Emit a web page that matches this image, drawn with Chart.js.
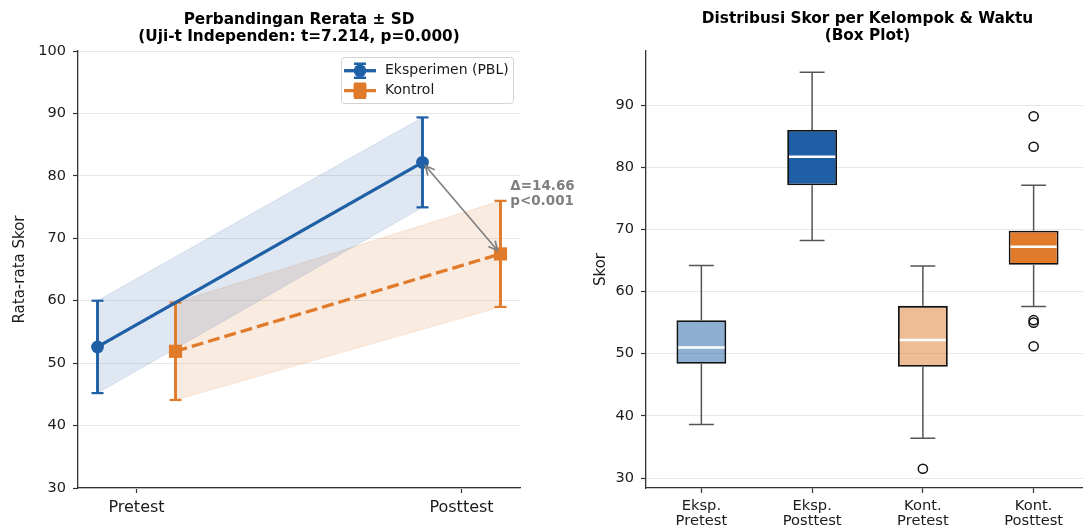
<!DOCTYPE html>
<html>
<head>
<meta charset="utf-8">
<script src="https://cdn.jsdelivr.net/npm/chart.js@4/dist/chart.umd.min.js"></script>
<style>
  html, body { margin: 0; padding: 0; background: #fff; overflow: hidden; width: 1083px; height: 528px; }
  canvas { position: absolute; top: 0; }
  #meanChart { left: 0; }
  #boxChart { left: 560px; }
</style>
</head>
<body>
<canvas id="meanChart" width="600" height="528"></canvas>
<canvas id="boxChart" width="540" height="528"></canvas>
<script>
// Data left panel: rerata +- SD
var phaseLabels = ['Pretest', 'Posttest'];
var expMean = [52.6, 82.16];
var expSD = [7.4, 7.2];
var kontMean = [51.9, 67.5];
var kontSD = [7.8, 8.5];
var meanTicks = [30, 40, 50, 60, 70, 80, 90, 100];

// Data right panel: box plot
var boxLabels = [['Eksp.', 'Pretest'], ['Eksp.', 'Posttest'], ['Kont.', 'Pretest'], ['Kont.', 'Posttest']];
var whiskerLow = [38.6, 68.2, 36.4, 57.6];
var boxQ1 = [48.4, 77.1, 47.9, 64.3];
var boxMedian = [51.0, 81.7, 52.2, 67.2];
var boxQ3 = [55.4, 86.0, 57.7, 69.8];
var whiskerHigh = [64.2, 95.3, 64.1, 77.1];
var outlierGroup = [3, 4, 4, 4, 4, 4];
var outlierValue = [31.5, 88.2, 83.3, 55.4, 55.0, 51.2];
var boxTicks = [30, 40, 50, 60, 70, 80, 90];

var BLUE = '#1f5fa5';
var ORANGE = '#e07b2c';
var EXP_OFF = -0.12;
var KONT_OFF = 0.12;
var FONT = 'DejaVu Sans';

Chart.defaults.font.family = FONT;
Chart.defaults.color = '#1a1a1a';

// judul panel di tengah area plot
var panelTitle = {
  id: 'panelTitle',
  afterDraw: function(chart, args, opts) {
    var ctx = chart.ctx, area = chart.chartArea;
    var cx = (area.left + area.right) / 2;
    ctx.save();
    ctx.font = 'bold 15.3px "' + FONT + '"';
    ctx.fillStyle = '#000';
    ctx.textAlign = 'center';
    ctx.textBaseline = 'middle';
    opts.lines.forEach(function(t, i) { ctx.fillText(t, cx, opts.top + i * opts.gap); });
    ctx.restore();
  }
};

// legenda gaya matplotlib (garis + marker + errorbar)
var legendBox = {
  id: 'legendBox',
  afterDatasetsDraw: function(chart) {
    var ctx = chart.ctx, area = chart.chartArea;
    var items = chart.data.datasets.filter(function(d) { return d.inLegend; });
    var w = 172, h = 46;
    var x0 = area.right - 7 - w, y0 = area.top + 6;
    ctx.save();
    ctx.beginPath();
    ctx.roundRect(x0 + 0.5, y0 + 0.5, w, h, 3);
    ctx.fillStyle = 'rgba(255,255,255,0.85)';
    ctx.fill();
    ctx.strokeStyle = '#d4d4d4';
    ctx.lineWidth = 1;
    ctx.stroke();
    items.forEach(function(d, i) {
      var y = y0 + 13.7 + i * 20;
      var hx = x0 + 3, cx = x0 + 19;
      ctx.strokeStyle = d.borderColor;
      ctx.lineWidth = 3.3;
      ctx.setLineDash(d.borderDash ? [10, 12] : []);
      ctx.beginPath(); ctx.moveTo(hx, y); ctx.lineTo(hx + 32, y); ctx.stroke();
      ctx.setLineDash([]);
      ctx.lineWidth = 2.4;
      ctx.beginPath();
      ctx.moveTo(cx, y - 7); ctx.lineTo(cx, y + 7);
      ctx.moveTo(cx - 6, y - 7); ctx.lineTo(cx + 6, y - 7);
      ctx.moveTo(cx - 6, y + 7); ctx.lineTo(cx + 6, y + 7);
      ctx.stroke();
      ctx.fillStyle = d.borderColor;
      if (d.pointStyle === 'rect') {
        ctx.fillRect(cx - 6.5, y - 6.5, 13, 13);
      } else {
        ctx.beginPath(); ctx.arc(cx, y, 6.3, 0, Math.PI * 2); ctx.fill();
      }
      ctx.fillStyle = '#1a1a1a';
      ctx.font = '14px "' + FONT + '"';
      ctx.textAlign = 'left';
      ctx.textBaseline = 'middle';
      ctx.fillText(d.label, x0 + 44, y);
    });
    ctx.restore();
  }
};

// panah selisih posttest + teks
var deltaNote = {
  id: 'deltaNote',
  afterDatasetsDraw: function(chart, args, opts) {
    var ctx = chart.ctx;
    var a = chart.getDatasetMeta(opts.from).data[1];
    var b = chart.getDatasetMeta(opts.to).data[1];
    var dx = b.x - a.x, dy = b.y - a.y, len = Math.sqrt(dx * dx + dy * dy);
    var ux = dx / len, uy = dy / len, s = 4.5;
    var p1 = {x: a.x + ux * s, y: a.y + uy * s}, p2 = {x: b.x - ux * s, y: b.y - uy * s};
    ctx.save();
    ctx.strokeStyle = '#808080';
    ctx.lineWidth = 1.7;
    ctx.beginPath(); ctx.moveTo(p1.x, p1.y); ctx.lineTo(p2.x, p2.y); ctx.stroke();
    function head(p, dirx, diry) {
      var hl = 9, hw = 4.5;
      ctx.beginPath();
      ctx.moveTo(p.x + dirx * hl - diry * hw, p.y + diry * hl + dirx * hw);
      ctx.lineTo(p.x, p.y);
      ctx.lineTo(p.x + dirx * hl + diry * hw, p.y + diry * hl - dirx * hw);
      ctx.stroke();
    }
    head(p1, ux, uy);
    head(p2, -ux, -uy);
    var tx = chart.scales.x.getPixelForValue(opts.textX);
    var ty = chart.scales.y.getPixelForValue(opts.textY);
    var diff = (expMean[1] - kontMean[1]).toFixed(2);
    ctx.fillStyle = '#808080';
    ctx.font = 'bold 13.5px "' + FONT + '"';
    ctx.textAlign = 'left';
    ctx.textBaseline = 'middle';
    ctx.fillText('\u0394=' + diff, tx, ty - 7.8);
    ctx.fillText('p<0.001', tx, ty + 7.8);
    ctx.restore();
  }
};

function bandSets(means, sds, offset, fillColor) {
  var upper = means.map(function(m, i) { return {x: i + offset, y: m + sds[i]}; });
  var lower = means.map(function(m, i) { return {x: i + offset, y: m - sds[i]}; });
  return [
    {data: upper, borderColor: fillColor, borderWidth: 1, pointRadius: 0, fill: false, order: 3},
    {data: lower, borderColor: fillColor, borderWidth: 1, pointRadius: 0, fill: '-1', backgroundColor: fillColor, order: 3}
  ];
}

function errorBarSets(means, sds, offset, color) {
  return means.map(function(m, i) {
    return {
      data: [{x: i + offset, y: m - sds[i]}, {x: i + offset, y: m + sds[i]}],
      borderColor: color, borderWidth: 2.9,
      pointStyle: 'line', pointRadius: 6, pointHoverRadius: 6,
      pointBorderWidth: 2.2, pointBorderColor: color, order: 2
    };
  });
}

var meanSets = [
  {
    label: 'Eksperimen (PBL)', inLegend: true,
    data: expMean.map(function(m, i) { return {x: i + EXP_OFF, y: m}; }),
    borderColor: BLUE, borderWidth: 3.3,
    pointStyle: 'circle', pointRadius: 6.4, pointHoverRadius: 6.4,
    pointBackgroundColor: BLUE, pointBorderWidth: 0, order: 1
  },
  {
    label: 'Kontrol', inLegend: true,
    data: kontMean.map(function(m, i) { return {x: i + KONT_OFF, y: m}; }),
    borderColor: ORANGE, borderWidth: 3.3, borderDash: [12, 5],
    pointStyle: 'rect', pointRadius: 9.3, pointHoverRadius: 9.3,
    pointBackgroundColor: ORANGE, pointBorderWidth: 0, order: 1
  }
].concat(
  errorBarSets(expMean, expSD, EXP_OFF, BLUE),
  errorBarSets(kontMean, kontSD, KONT_OFF, ORANGE),
  bandSets(expMean, expSD, EXP_OFF, 'rgba(31,95,165,0.15)'),
  bandSets(kontMean, kontSD, KONT_OFF, 'rgba(224,123,44,0.15)')
);

new Chart(document.getElementById('meanChart'), {
  type: 'line',
  data: {datasets: meanSets},
  plugins: [panelTitle, legendBox, deltaNote],
  options: {
    responsive: false,
    animation: false,
    devicePixelRatio: 1,
    layout: {padding: {left: 0, right: 80, top: 51, bottom: 0}},
    elements: {line: {tension: 0}},
    plugins: {
      legend: {display: false},
      tooltip: {enabled: false},
      panelTitle: {lines: ['Perbandingan Rerata \u00b1 SD', '(Uji-t Independen: t=7.214, p=0.000)'], top: 20, gap: 17},
      deltaNote: {from: 0, to: 1, textX: 1.15, textY: 77.1}
    },
    scales: {
      x: {
        type: 'linear', min: -0.18, max: 1.18,
        afterBuildTicks: function(scale) { scale.ticks = phaseLabels.map(function(_, i) { return {value: i}; }); },
        afterFit: function(scale) { scale.height = 40; },
        ticks: {callback: function(v) { return phaseLabels[v]; }, font: {size: 16}, color: '#1a1a1a', padding: 5},
        grid: {drawOnChartArea: false, tickLength: 5, tickColor: '#333', tickWidth: 1.2},
        border: {color: '#333', width: 1.3}
      },
      y: {
        min: 30, max: 100,
        afterBuildTicks: function(scale) { scale.ticks = meanTicks.map(function(v) { return {value: v}; }); },
        afterFit: function(scale) { scale.width = 78; },
        ticks: {font: {size: 14.5}, color: '#1a1a1a', padding: 7},
        grid: {color: '#e8e8e8', lineWidth: 1, tickLength: 5, tickColor: '#333', tickWidth: 1.2},
        border: {color: '#333', width: 1.3},
        title: {display: true, text: 'Rata-rata Skor', font: {size: 15}, color: '#1a1a1a', padding: {top: 11, bottom: 0}}
      }
    }
  }
});

// whisker + median untuk box plot
var whiskers = {
  id: 'whiskers',
  afterDatasetsDraw: function(chart) {
    var ctx = chart.ctx, y = chart.scales.y;
    var meta = chart.getDatasetMeta(0);
    ctx.save();
    meta.data.forEach(function(bar, i) {
      var half = bar.width / 2, cap = half / 2;
      ctx.strokeStyle = '#555';
      ctx.lineWidth = 1.5;
      ctx.beginPath();
      ctx.moveTo(bar.x, y.getPixelForValue(boxQ3[i])); ctx.lineTo(bar.x, y.getPixelForValue(whiskerHigh[i]));
      ctx.moveTo(bar.x - cap, y.getPixelForValue(whiskerHigh[i])); ctx.lineTo(bar.x + cap, y.getPixelForValue(whiskerHigh[i]));
      ctx.moveTo(bar.x, y.getPixelForValue(boxQ1[i])); ctx.lineTo(bar.x, y.getPixelForValue(whiskerLow[i]));
      ctx.moveTo(bar.x - cap, y.getPixelForValue(whiskerLow[i])); ctx.lineTo(bar.x + cap, y.getPixelForValue(whiskerLow[i]));
      ctx.stroke();
      ctx.strokeStyle = '#fff';
      ctx.lineWidth = 2.6;
      ctx.beginPath();
      ctx.moveTo(bar.x - half + 1.8, y.getPixelForValue(boxMedian[i]));
      ctx.lineTo(bar.x + half - 1.8, y.getPixelForValue(boxMedian[i]));
      ctx.stroke();
    });
    ctx.restore();
  }
};

new Chart(document.getElementById('boxChart'), {
  type: 'bar',
  data: {
    datasets: [
      {
        type: 'bar',
        data: boxQ1.map(function(q, i) { return {x: i + 1, y: [q, boxQ3[i]]}; }),
        backgroundColor: ['rgba(31,95,165,0.5)', BLUE, 'rgba(224,123,44,0.5)', ORANGE],
        borderColor: '#111', borderWidth: 1.8, borderSkipped: false,
        barPercentage: 0.45, categoryPercentage: 1
      },
      {
        type: 'scatter',
        data: outlierValue.map(function(v, i) { return {x: outlierGroup[i], y: v}; }),
        pointStyle: 'circle', pointRadius: 4.6, pointHoverRadius: 4.6,
        pointBackgroundColor: 'rgba(0,0,0,0)', pointBorderColor: '#111', pointBorderWidth: 1.5
      }
    ]
  },
  plugins: [panelTitle, whiskers],
  options: {
    responsive: false,
    animation: false,
    devicePixelRatio: 1,
    layout: {padding: {left: 0, right: 11, top: 51, bottom: 0}},
    plugins: {
      legend: {display: false},
      tooltip: {enabled: false},
      panelTitle: {lines: ['Distribusi Skor per Kelompok & Waktu', '(Box Plot)'], top: 19.5, gap: 17}
    },
    scales: {
      x: {
        type: 'linear', min: 0.5, max: 4.5, offset: false,
        afterBuildTicks: function(scale) { scale.ticks = boxLabels.map(function(_, i) { return {value: i + 1}; }); },
        afterFit: function(scale) { scale.height = 40; },
        ticks: {callback: function(v) { return boxLabels[v - 1]; }, font: {size: 14.7, lineHeight: 1.07}, color: '#1a1a1a', padding: 5},
        grid: {drawOnChartArea: false, offset: false, tickLength: 5, tickColor: '#333', tickWidth: 1.2},
        border: {color: '#333', width: 1.3}
      },
      y: {
        min: 28.4, max: 98.7,
        afterBuildTicks: function(scale) { scale.ticks = boxTicks.map(function(v) { return {value: v}; }); },
        afterFit: function(scale) { scale.width = 86; },
        ticks: {font: {size: 14.5}, color: '#1a1a1a', padding: 7},
        grid: {color: '#e8e8e8', lineWidth: 1, tickLength: 5, tickColor: '#333', tickWidth: 1.2},
        border: {color: '#333', width: 1.3},
        title: {display: true, text: 'Skor', font: {size: 15}, color: '#1a1a1a', padding: {top: 32, bottom: 0}}
      }
    }
  }
});
</script>
</body>
</html>
